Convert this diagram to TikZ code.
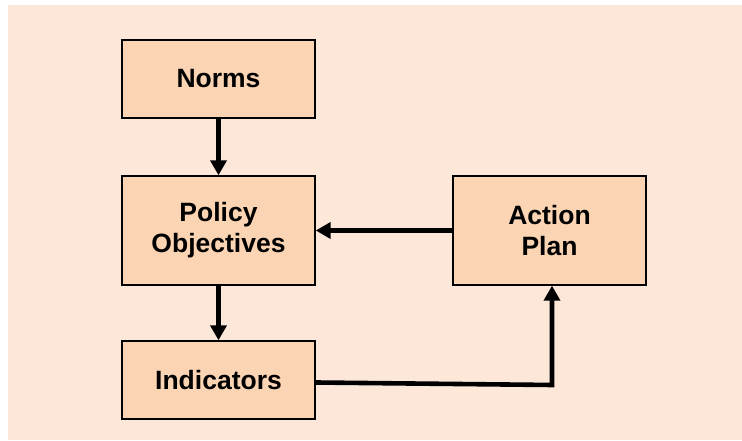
\documentclass[tikz,border=0pt]{standalone}
\usepackage{fontspec}
\setmainfont{Liberation Sans}
\usetikzlibrary{arrows.meta}
\definecolor{bgc}{HTML}{FCE7D9}
\definecolor{boxc}{HTML}{FBD4B3}
\begin{document}
\begin{tikzpicture}[x=1pt,y=1pt,
  blk/.style={draw=black, line width=1.4pt, fill=boxc, minimum width=193pt, minimum height=78pt, inner sep=0pt, align=center, font=\fontsize{26.5}{31}\selectfont\bfseries},
  conn/.style={line width=4.2pt, -{Triangle[length=15pt,width=16pt]}}]
\useasboundingbox (0,0) rectangle (742,441);
\fill[white] (0,0) rectangle (742,441);
\fill[bgc] (8,1) rectangle (742,436);
\node[blk] (norms) at (218.5,362) {Norms};
\node[blk, minimum height=109pt] (pol) at (218.5,210.5) {Policy\\Objectives};
\node[blk, minimum height=109pt] (act) at (549.5,210.5) {Action\\Plan};
\node[blk] (ind) at (218.5,61) {Indicators};
\coordinate (c) at (552,56);
\draw[conn] (norms) -- (pol);
\draw[conn] (pol) -- (ind);
\draw[conn] (act) -- (pol);
\draw[conn, line width=4.6pt, line join=miter] ([yshift=-2.5pt]ind.east) -- (c) -- (c |- act.south);
\end{tikzpicture}
\end{document}
